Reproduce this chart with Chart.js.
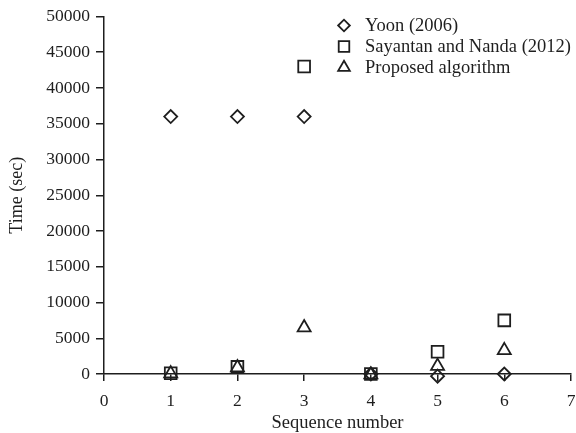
<!DOCTYPE html>
<html>
<head>
<meta charset="utf-8">
<script src="https://cdn.jsdelivr.net/npm/chart.js@4/dist/chart.umd.min.js"></script>
<style>
  html, body { margin: 0; padding: 0; background: #ffffff; }
  canvas { display: block; }
</style>
</head>
<body>
<canvas id="c" width="576" height="433"></canvas>
<script>
// ---- data ----
const seqNumbers = [1, 2, 3, 4, 5, 6];
const yoon2006 = [36000, 36000, 36000, 0, -300, 0];
const sayantanNanda2012 = [100, 1000, 43000, 0, 3100, 7500];
const proposedAlgorithm = [50, 900, 6500, -100, 1100, 3300];
const seriesNames = ['Yoon (2006)', 'Sayantan and Nanda (2012)', 'Proposed algorithm'];
const xTickValues = [0, 1, 2, 3, 4, 5, 6, 7];
const yTickValues = [0, 5000, 10000, 15000, 20000, 25000, 30000, 35000, 40000, 45000, 50000];
const xTitle = 'Sequence number';
const yTitle = 'Time (sec)';

// ---- styles ----
const INK = '#1e1e1e';
const FONT = 'Liberation Serif';
const styles = [
  { pointStyle: 'rectRot', radius: 6.5 },
  { pointStyle: 'rect', radius: 8.3 },
  { pointStyle: 'triangle', radius: 7.5 }
];

function toPoints(values) {
  return seqNumbers.map((x, i) => ({ x: x, y: values[i] }));
}
const seriesValues = [yoon2006, sayantanNanda2012, proposedAlgorithm];

const datasets = seriesValues.map((vals, i) => ({
  label: seriesNames[i],
  data: toPoints(vals),
  showLine: false,
  pointStyle: styles[i].pointStyle,
  pointRadius: styles[i].radius,
  pointHoverRadius: styles[i].radius,
  pointBorderWidth: 1.8,
  pointBorderColor: INK,
  pointBackgroundColor: 'rgba(0,0,0,0)',
  clip: false
}));

function drawMarker(ctx, style, radius, x, y) {
  if (Chart.helpers && Chart.helpers.drawPoint) {
    Chart.helpers.drawPoint(ctx, { pointStyle: style, rotation: 0, radius: radius, borderWidth: 1.8 }, x, y);
    return;
  }
  ctx.beginPath();
  if (style === 'rect') {
    const s = Math.SQRT1_2 * radius;
    ctx.rect(x - s, y - s, 2 * s, 2 * s);
  } else if (style === 'rectRot') {
    ctx.moveTo(x, y - radius); ctx.lineTo(x + radius, y);
    ctx.lineTo(x, y + radius); ctx.lineTo(x - radius, y); ctx.closePath();
  } else {
    const w = radius * Math.sqrt(3) / 2;
    ctx.moveTo(x, y - radius); ctx.lineTo(x + w, y + radius / 2);
    ctx.lineTo(x - w, y + radius / 2); ctx.closePath();
  }
  ctx.stroke();
}

const legendPlugin = {
  id: 'insideLegend',
  afterDraw(chart) {
    const ctx = chart.ctx;
    const markerX = 344, textX = 365;
    const rowsY = [25.5, 46.5, 67.5];
    ctx.save();
    ctx.strokeStyle = INK;
    ctx.lineWidth = 1.8;
    seriesNames.forEach((name, i) => {
      ctx.fillStyle = 'rgba(0,0,0,0)';
      drawMarker(ctx, styles[i].pointStyle, styles[i].radius * 0.9, markerX, rowsY[i]);
    });
    ctx.fillStyle = INK;
    ctx.font = '18.5px "' + FONT + '"';
    ctx.textBaseline = 'middle';
    ctx.textAlign = 'left';
    seriesNames.forEach((name, i) => {
      ctx.fillText(name, textX, rowsY[i] + 1);
    });
    ctx.restore();
  }
};

new Chart(document.getElementById('c'), {
  type: 'scatter',
  data: { datasets: datasets },
  plugins: [legendPlugin],
  options: {
    responsive: false,
    animation: false,
    devicePixelRatio: 1,
    layout: { autoPadding: false, padding: { top: 16.5, right: 5, left: 0, bottom: 0 } },
    plugins: {
      legend: { display: false },
      tooltip: { enabled: false }
    },
    scales: {
      x: {
        type: 'linear',
        position: 'bottom',
        min: xTickValues[0],
        max: xTickValues[xTickValues.length - 1],
        afterBuildTicks(scale) { scale.ticks = xTickValues.map(v => ({ value: v })); },
        afterFit(scale) { scale.height = 59; scale.paddingRight = 0; scale.paddingLeft = 0; },
        ticks: {
          color: INK,
          font: { family: FONT, size: 17.5, lineHeight: 2.2 },
          padding: 1,
          maxRotation: 0,
          callback: (v) => String(v)
        },
        grid: {
          display: true,
          drawOnChartArea: false,
          drawTicks: true,
          tickLength: 7,
          color: INK,
          lineWidth: 1.5
        },
        border: { display: true, color: INK, width: 1.5 },
        title: {
          display: true,
          text: xTitle,
          color: INK,
          font: { family: FONT, size: 18.5, lineHeight: 1.1 },
          padding: { top: 0, bottom: 0 }
        }
      },
      y: {
        type: 'linear',
        position: 'left',
        min: yTickValues[0],
        max: yTickValues[yTickValues.length - 1],
        afterBuildTicks(scale) { scale.ticks = yTickValues.map(v => ({ value: v })); },
        afterFit(scale) { scale.width = 104; },
        ticks: {
          color: INK,
          font: { family: FONT, size: 17.5 },
          padding: 6,
          callback: (v) => String(v)
        },
        grid: {
          display: true,
          drawOnChartArea: false,
          drawTicks: true,
          tickLength: 8,
          color: INK,
          lineWidth: 1.5
        },
        border: { display: true, color: INK, width: 1.5 },
        title: {
          display: true,
          text: yTitle,
          color: INK,
          font: { family: FONT, size: 18, lineHeight: 1.2 },
          padding: { top: 6, bottom: 0 }
        }
      }
    }
  }
});
</script>
</body>
</html>
